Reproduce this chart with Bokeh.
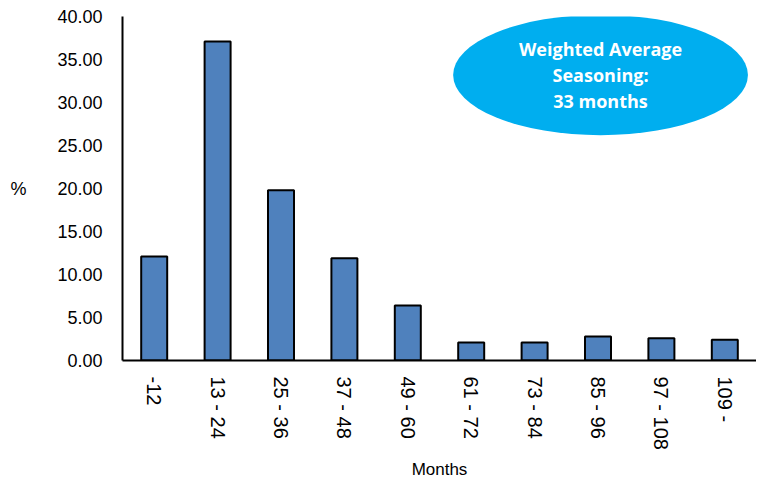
from bokeh.plotting import figure
from bokeh.models import Range1d, FixedTicker, NumeralTickFormatter
from bokeh.core.properties import value
from bokeh.embed import file_html
from bokeh.resources import INLINE

categories = ["-12", "13 - 24", "25 - 36", "37 - 48", "49 - 60",
              "61 - 72", "73 - 84", "85 - 96", "97 - 108", "109 -"]
values = [12.1, 37.1, 19.8, 11.9, 6.4, 2.1, 2.1, 2.8, 2.6, 2.4]
y_ticks = [0, 5, 10, 15, 20, 25, 30, 35, 40]
note_lines = ["Weighted Average", "Seasoning:", "33 months"]

FONT = "Liberation Sans"

xs = [i + 0.5 for i in range(len(categories))]

p = figure(width=756, height=481, output_backend="svg", toolbar_location=None,
           x_range=Range1d(0, len(categories)), y_range=Range1d(0, 40),
           min_border_left=122, min_border_right=0, min_border_top=16,
           min_border_bottom=0)
p.outline_line_color = None
p.grid.visible = False
p.background_fill_color = "white"

p.vbar(x=xs, top=values, width=0.41, bottom=0,
       fill_color="#4F81BD", line_color="black", line_width=2)

# callout ellipse
p.ellipse(x=[7.54], y=[33.2], width=4.65, height=14.0,
          fill_color="#00AEEF", line_color=None)
p.text(x=[7.54] * 3, y=[36.2, 33.2, 30.2], text=note_lines,
       text_align="center", text_baseline="middle",
       text_font=value("Open Sans"), text_font_style="bold",
       text_font_size="18px", text_color="white")

# axes
xa = p.xaxis[0]
xa.ticker = FixedTicker(ticks=xs)
xa.major_label_overrides = {x: c for x, c in zip(xs, categories)}
xa.major_label_orientation = -1.5708
xa.major_tick_line_color = None
xa.minor_tick_line_color = None
xa.axis_line_color = "black"
xa.axis_line_width = 2
xa.major_label_standoff = 10
xa.major_label_text_font = FONT
xa.major_label_text_font_size = "20px"
xa.major_label_text_color = "black"
xa.axis_label = "Months"
xa.axis_label_text_font = FONT
xa.axis_label_text_font_size = "17px"
xa.axis_label_text_font_style = "normal"
xa.axis_label_text_color = "black"
xa.axis_label_standoff = 7

ya = p.yaxis[0]
ya.ticker = FixedTicker(ticks=y_ticks)
ya.formatter = NumeralTickFormatter(format="0.00")
ya.major_tick_line_color = None
ya.minor_tick_line_color = None
ya.axis_line_color = "black"
ya.axis_line_width = 2
ya.major_label_standoff = 14
ya.major_label_text_font = FONT
ya.major_label_text_font_size = "18px"
ya.major_label_text_color = "black"
ya.axis_label = "%"
ya.axis_label_orientation = "horizontal"
ya.axis_label_text_font = FONT
ya.axis_label_text_font_size = "18px"
ya.axis_label_text_font_style = "normal"
ya.axis_label_text_color = "black"
ya.axis_label_standoff = 28

open("out.html", "w").write(file_html(p, INLINE))
